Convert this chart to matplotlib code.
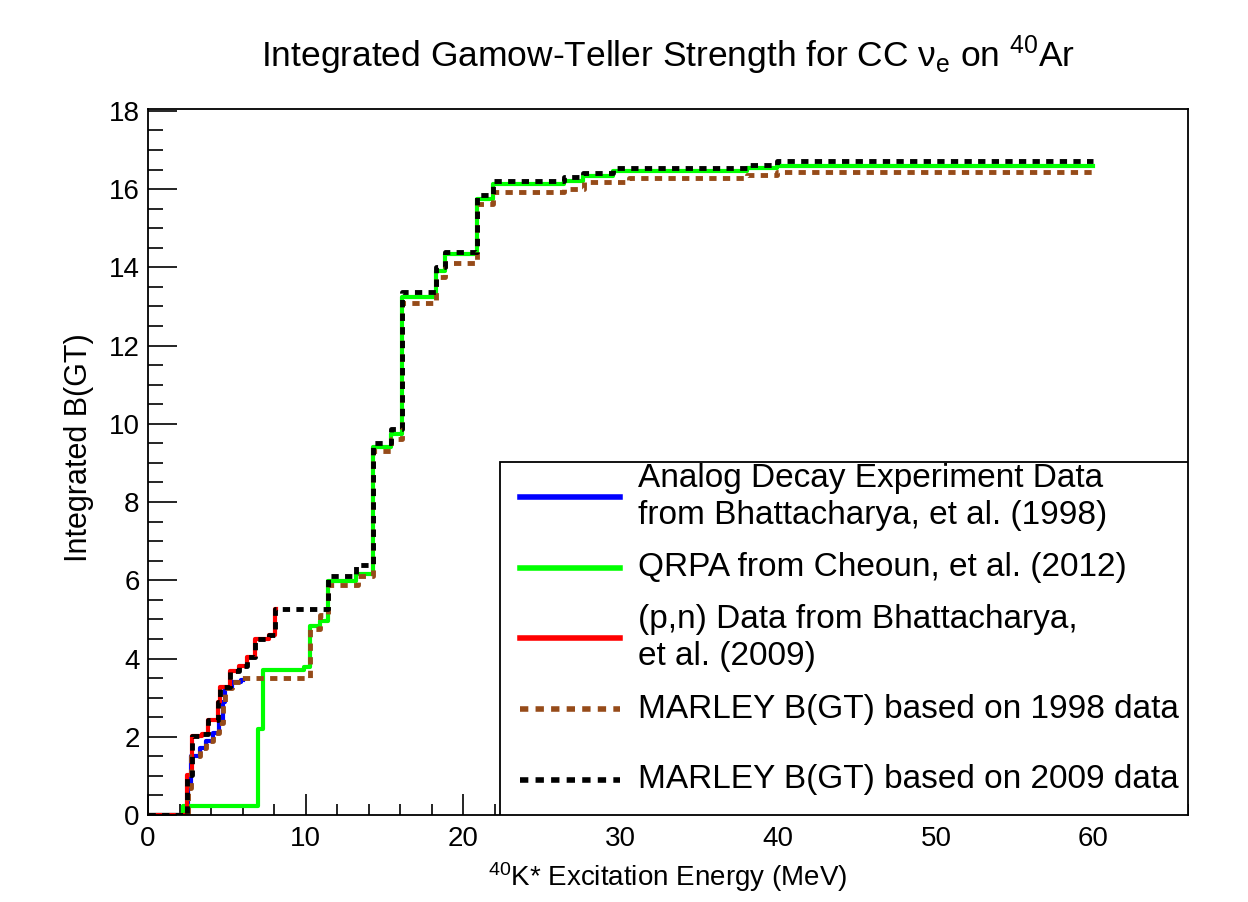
import matplotlib
matplotlib.use('Agg')
import matplotlib.pyplot as plt
from matplotlib.lines import Line2D
from matplotlib.patches import Rectangle
from matplotlib.ticker import MultipleLocator

plt.rcParams['font.family'] = ['Liberation Sans', 'DejaVu Sans']
plt.rcParams['mathtext.fontset'] = 'custom'
plt.rcParams['mathtext.rm'] = 'Liberation Sans'
plt.rcParams['mathtext.default'] = 'regular'

# Analog decay experiment (1998)
ad_E = [0, 2.55, 2.75, 3.3, 3.7, 4.1, 4.5, 4.75, 4.9, 5.3, 5.9, 6.0]
ad_B = [0, 0.7, 1.5, 1.7, 1.9, 2.1, 2.35, 2.9, 3.25, 3.4, 3.45, 3.45]

# QRPA, Cheoun et al. (2012)
qrpa_E = [0, 2.2, 7.0, 7.3, 9.9, 10.3, 10.9, 11.45, 13.2, 14.3, 15.45, 16.15,
          18.3, 18.85, 20.87, 21.9, 26.4, 27.6, 29.5, 38.0, 39.9, 60.0]
qrpa_B = [0, 0.22, 2.2, 3.71, 3.78, 4.83, 4.97, 5.99, 6.17, 9.4, 9.75, 13.25,
          13.9, 14.33, 15.74, 16.13, 16.2, 16.34, 16.47, 16.55, 16.6, 16.6]

# (p,n) data (2009)
pn_E = [0, 2.46, 2.77, 3.4, 3.83, 4.47, 4.6, 5.2, 5.75, 6.27, 6.79, 7.65, 8.06, 8.1]
pn_B = [0, 1.03, 2.01, 2.07, 2.43, 2.9, 3.28, 3.67, 3.8, 4.05, 4.51, 4.6, 5.26, 5.26]

# MARLEY based on 1998 data
m98_E = [0, 2.55, 2.75, 3.3, 3.7, 4.1, 4.5, 4.75, 4.9, 5.3, 5.9, 10.3, 10.9, 11.45,
         13.3, 14.3, 15.45, 16.15, 18.3, 18.85, 20.87, 21.9, 26.4, 27.7, 30.5,
         38.0, 39.9, 60.0]
m98_B = [0, 0.7, 1.5, 1.7, 1.9, 2.1, 2.35, 2.9, 3.25, 3.4, 3.5, 4.75, 5.1, 5.87,
         6.1, 9.3, 9.6, 13.1, 13.75, 14.1, 15.61, 15.93, 16.01, 16.17, 16.28,
         16.35, 16.43, 16.43]

# MARLEY based on 2009 data
m09_E = [0, 2.46, 2.77, 3.4, 3.83, 4.47, 4.6, 5.2, 5.75, 6.27, 6.79, 7.65, 8.06,
         11.45, 13.2, 14.3, 15.45, 16.15, 18.3, 18.85, 20.87, 21.9, 26.4, 27.6,
         29.5, 38.0, 39.9, 60.0]
m09_B = [0, 1.03, 2.01, 2.07, 2.43, 2.9, 3.28, 3.67, 3.8, 4.05, 4.51, 4.6, 5.26,
         6.1, 6.38, 9.5, 9.86, 13.37, 14.0, 14.4, 15.85, 16.2, 16.3, 16.42,
         16.53, 16.62, 16.71, 16.71]

labels = ['Analog Decay Experiment Data\nfrom Bhattacharya, et al. (1998)',
          'QRPA from Cheoun, et al. (2012)',
          '(p,n) Data from Bhattacharya,\net al. (2009)',
          'MARLEY B(GT) based on 1998 data',
          'MARLEY B(GT) based on 2009 data']

brown = '#964b19'
dash = (0, (1.5, 1.3))

fig = plt.figure(figsize=(12.48, 9.02), dpi=100)
ax = fig.add_axes([0.1186, 0.0965, 0.8333, 0.7827])

ax.plot(ad_E, ad_B, drawstyle='steps-post', color='#0000ff', lw=3)
ax.plot(qrpa_E, qrpa_B, drawstyle='steps-post', color='#00ff00', lw=3)
ax.plot(pn_E, pn_B, drawstyle='steps-post', color='#ff0000', lw=3)
ax.plot(m98_E, m98_B, drawstyle='steps-post', color=brown, lw=3.5, ls=dash)
ax.plot(m09_E, m09_B, drawstyle='steps-post', color='black', lw=3.5, ls=dash)

ax.set_xlim(0, 66)
ax.set_ylim(0, 18.05)
ax.xaxis.set_major_locator(MultipleLocator(10))
ax.xaxis.set_minor_locator(MultipleLocator(2))
ax.yaxis.set_major_locator(MultipleLocator(2))
ax.yaxis.set_minor_locator(MultipleLocator(0.5))
ax.tick_params(which='both', direction='in', top=False, right=False, labelsize=20, width=1.2)
ax.tick_params(axis='x', which='major', length=15, pad=8)
ax.tick_params(axis='x', which='minor', length=8)
ax.tick_params(axis='y', which='major', length=21, pad=6)
ax.tick_params(axis='y', which='minor', length=11)
for s in ax.spines.values():
    s.set_linewidth(1.3)

ax.set_xlabel(r'$^{40}$K* Excitation Energy (MeV)', fontsize=20, labelpad=6)
ax.set_ylabel('Integrated B(GT)', fontsize=22)
ax.yaxis.set_label_coords(-0.052, 0.52)
ax.set_title(r'Integrated Gamow-Teller Strength for CC $\nu_e$ on $^{40}$Ar', fontsize=25.5, pad=30)

# legend box in ROOT style (equal height per entry)
ax.add_patch(Rectangle((0.3385, 0), 0.6615, 0.5, transform=ax.transAxes,
                       facecolor='white', edgecolor='black', lw=1.3, zorder=5))
colors = ['#0000ff', '#00ff00', '#ff0000', brown, 'black']
for i, (lab, c) in enumerate(zip(labels, colors)):
    yc = 0.45 - 0.1 * i
    ls = dash if i >= 3 else '-'
    ax.add_line(Line2D([0.3577, 0.4535], [yc, yc], transform=ax.transAxes,
                       color=c, lw=4, ls=ls, zorder=6))
    ax.text(0.471, yc, lab, transform=ax.transAxes, fontsize=24, va='center',
            ha='left', linespacing=1.25, zorder=6)

fig.savefig('out.png', dpi=100)
